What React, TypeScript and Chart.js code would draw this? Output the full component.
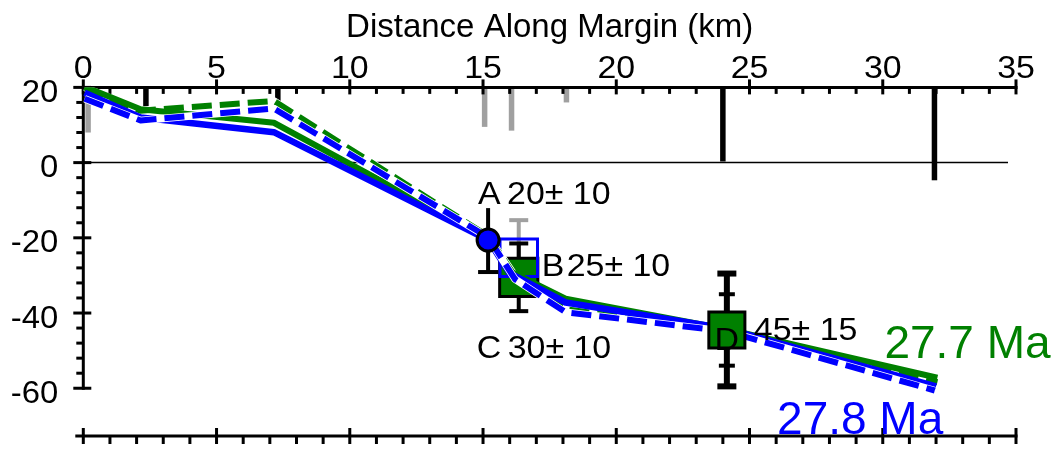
import React, { useEffect, useRef } from "react";
import { Chart, registerables } from "chart.js";

Chart.register(...registerables);

// ---- axis ticks / labels ----
const xTickValues = [0, 5, 10, 15, 20, 25, 30, 35];
const xTickLabels = ["0", "5", "10", "15", "20", "25", "30", "35"];
const yTickValues = [20, 0, -20, -40, -60];
const yTickLabels = ["20", "0", "-20", "-40", "-60"];
const axisTitle = "Distance Along Margin (km)";

// ---- model profiles (km along margin, elevation) ----
const greenSolidKm = [0.05, 2.15, 7.15, 15.2, 16.0, 18.1, 24.15, 32.05];
const greenSolidVal = [20.2, 14.2, 10.6, -20.3, -28.8, -36.2, -44.3, -57.2];
const greenDashedKm = [0.05, 2.15, 7.15, 15.2, 16.2, 18.1, 24.15, 32.05];
const greenDashedVal = [20.0, 13.8, 16.4, -19.6, -30.2, -39.0, -44.8, -58.4];
const blueSolidKm = [0.05, 2.15, 7.15, 15.2, 16.0, 18.1, 24.15, 32.0];
const blueSolidVal = [18.6, 12.0, 8.1, -20.6, -29.4, -37.2, -44.2, -59.5];
const blueDashedKm = [0.05, 2.15, 7.15, 15.2, 16.2, 18.1, 24.15, 31.95];
const blueDashedVal = [17.0, 11.2, 14.4, -19.9, -31.0, -39.8, -44.9, -60.6];
const seriesNames = ["27.7 Ma", "27.8 Ma"];

// ---- samples ----
const sampleNames = ["A", "B", "C", "D"];
const sampleKm = [15.19, 16.34, 16.34, 24.15];
const sampleVal = [-20.6, -25.3, -30.5, -44.5];
const sampleErr = [8.5, 10, 9, 15];
const sampleInnerErr = [0, 0, 0, 9.5];
const sampleAge = ["20± 10", "25± 10", "30± 10", "45± 15"];

// ---- vertical sticks hanging from top axis ----
const stickKm = [0.18, 2.35, 7.3, 15.06, 16.07, 18.13, 24.0, 31.94];
const stickEnd = [8, 15, 14, 9.5, 8.5, 16, 0.3, -4.7];
const stickGrey = [true, false, false, true, true, true, false, false];

const X_MIN = 0;
const X_MAX = 35;
const Y_MIN = -72.7;
const Y_MAX = 20;
const Y_AXIS_MIN = -60;
const ZERO_LINE_END = 34.7;

const FONT = '"Liberation Sans", Arial, Helvetica, sans-serif';
const GREEN = "#008000";
const BLUE = "#0000ff";
const GREY = "#a0a0a0";
const TEXT_STRETCH = 1.06;

function toXY(xs: number[], ys: number[]) {
  return xs.map((x, i) => ({ x, y: ys[i] }));
}

function seg(ctx: CanvasRenderingContext2D, x1: number, y1: number, x2: number, y2: number, w: number, color: string) {
  ctx.beginPath();
  ctx.lineWidth = w;
  ctx.strokeStyle = color;
  ctx.lineCap = "butt";
  ctx.moveTo(x1, y1);
  ctx.lineTo(x2, y2);
  ctx.stroke();
}

function text(ctx: CanvasRenderingContext2D, s: string, x: number, y: number, align: CanvasTextAlign, sx: number) {
  ctx.save();
  ctx.translate(x, y);
  ctx.scale(sx, 1);
  ctx.textAlign = align;
  ctx.textBaseline = "alphabetic";
  ctx.fillText(s, 0, 0);
  ctx.restore();
}

function errorBar(
  ctx: CanvasRenderingContext2D,
  x: number,
  yTop: number,
  yBot: number,
  stemW: number,
  capW: number,
  capT: number,
  color: string,
  topCap: boolean
) {
  seg(ctx, x, yTop, x, yBot, stemW, color);
  if (topCap) seg(ctx, x - capW / 2, yTop, x + capW / 2, yTop, capT, color);
  seg(ctx, x - capW / 2, yBot, x + capW / 2, yBot, capT, color);
}

const DS_BC = 0;
const DS_A = 7;
const DS_D = 8;

const customPlugin = {
  id: "customDraw",
  beforeDatasetsDraw(chart: any) {
    const ctx: CanvasRenderingContext2D = chart.ctx;
    const xs = chart.scales.x;
    const ys = chart.scales.y;
    ctx.save();
    const yTopPx = ys.getPixelForValue(Y_MAX);
    // sticks hanging from the top axis
    stickKm.forEach((k, i) => {
      const px = xs.getPixelForValue(k);
      seg(ctx, px, yTopPx, px, ys.getPixelForValue(stickEnd[i]), 5.5, stickGrey[i] ? GREY : "#000");
    });
    // zero line
    const y0 = ys.getPixelForValue(0);
    seg(ctx, xs.getPixelForValue(0), y0, xs.getPixelForValue(ZERO_LINE_END), y0, 1.5, "#000");

    const x0 = xs.getPixelForValue(X_MIN);
    const x35 = xs.getPixelForValue(X_MAX);
    const yBotPx = ys.getPixelForValue(Y_MIN);
    // top axis
    seg(ctx, x0 - 1.5, yTopPx, x35 + 1.5, yTopPx, 3, "#000");
    for (let k = X_MIN; k <= X_MAX; k++) {
      const px = xs.getPixelForValue(k);
      if (k % 5 === 0) seg(ctx, px, yTopPx - 8, px, yTopPx + 7, 3, "#000");
      else seg(ctx, px, yTopPx, px, yTopPx + 6.5, 3, "#000");
    }
    // bottom axis (top axis of the panel below)
    seg(ctx, x0 - 8, yBotPx, x35 + 1.5, yBotPx, 3, "#000");
    for (let k = X_MIN; k <= X_MAX; k++) {
      const px = xs.getPixelForValue(k);
      if (k % 5 === 0) seg(ctx, px, yBotPx - 8, px, yBotPx + 8, 3, "#000");
      else seg(ctx, px, yBotPx, px, yBotPx + 8, 3, "#000");
    }
    // left axis
    seg(ctx, x0, yTopPx - 1.5, x0, ys.getPixelForValue(Y_AXIS_MIN) + 1.5, 3, "#000");
    for (let v = Y_MAX; v >= Y_AXIS_MIN; v -= 4) {
      const py = ys.getPixelForValue(v);
      if (v % 20 === 0) seg(ctx, x0 - 10, py, x0 + 8, py, 3, "#000");
      else seg(ctx, x0 - 7, py, x0, py, 3, "#000");
    }
    // tick labels
    ctx.fillStyle = "#000";
    ctx.font = `32px ${FONT}`;
    xTickValues.forEach((v, i) => {
      text(ctx, xTickLabels[i], xs.getPixelForValue(v), yTopPx - 9, "center", TEXT_STRETCH);
    });
    ctx.font = `31px ${FONT}`;
    yTickValues.forEach((v, i) => {
      text(ctx, yTickLabels[i], x0 - 25, ys.getPixelForValue(v) + 14.5, "right", TEXT_STRETCH);
    });
    // title
    ctx.font = `33px ${FONT}`;
    text(ctx, axisTitle, (x0 + x35) / 2, 37, "center", 1);
    ctx.restore();
  },
  beforeDatasetDraw(chart: any, args: any) {
    const ctx: CanvasRenderingContext2D = chart.ctx;
    const xs = chart.scales.x;
    const ys = chart.scales.y;
    ctx.save();
    const bar = (i: number, color: string, stemW: number, capW: number, capT: number, topCap: boolean) => {
      const px = xs.getPixelForValue(sampleKm[i]);
      errorBar(
        ctx,
        px,
        ys.getPixelForValue(sampleVal[i] + sampleErr[i]),
        ys.getPixelForValue(sampleVal[i] - sampleErr[i]),
        stemW,
        capW,
        capT,
        color,
        topCap
      );
    };
    if (args.index === DS_BC) {
      bar(1, GREY, 4, 19, 4, true);
      bar(2, "#000", 4, 19, 4, true);
    } else if (args.index === DS_A) {
      bar(0, "#000", 4, 20, 4, false);
    } else if (args.index === DS_D) {
      bar(3, "#000", 6, 19, 6, true);
      const px = xs.getPixelForValue(sampleKm[3]);
      const yi1 = ys.getPixelForValue(sampleVal[3] + sampleInnerErr[3]);
      const yi2 = ys.getPixelForValue(sampleVal[3] - sampleInnerErr[3]);
      seg(ctx, px - 8, yi1, px + 8, yi1, 4, "#000");
      seg(ctx, px - 8, yi2, px + 8, yi2, 4, "#000");
    }
    ctx.restore();
  },
  afterDatasetsDraw(chart: any) {
    const ctx: CanvasRenderingContext2D = chart.ctx;
    const xs = chart.scales.x;
    const ys = chart.scales.y;
    ctx.save();
    ctx.fillStyle = "#000";
    ctx.font = `32px ${FONT}`;
    const px = (i: number) => xs.getPixelForValue(sampleKm[i]);
    const py = (i: number) => ys.getPixelForValue(sampleVal[i]);
    const S = TEXT_STRETCH;
    // A
    text(ctx, sampleNames[0], px(0) - 10, py(0) - 36, "left", S);
    text(ctx, sampleAge[0], px(0) + 19, py(0) - 36, "left", S);
    // B
    text(ctx, sampleNames[1], px(1) + 23, py(1) + 18, "left", S);
    text(ctx, sampleAge[1], px(1) + 48, py(1) + 18, "left", S);
    // C
    text(ctx, sampleNames[2], px(2) - 42, py(2) + 81, "left", S);
    text(ctx, sampleAge[2], px(2) - 11, py(2) + 81, "left", S);
    // D
    text(ctx, sampleNames[3], px(3), py(3) + 20, "center", S);
    text(ctx, sampleAge[3], px(3) + 27, py(3) + 10, "left", S);
    // series labels
    ctx.font = `46px ${FONT}`;
    const gEnd = greenSolidKm.length - 1;
    ctx.fillStyle = GREEN;
    text(ctx, seriesNames[0], xs.getPixelForValue(greenSolidKm[gEnd]) - 53, ys.getPixelForValue(greenSolidVal[gEnd]) - 20, "left", 1);
    const bEnd = blueSolidKm.length - 1;
    ctx.fillStyle = BLUE;
    text(ctx, seriesNames[1], xs.getPixelForValue(blueSolidKm[bEnd]) - 159, ys.getPixelForValue(blueSolidVal[bEnd]) + 48, "left", 1);
    ctx.restore();
  },
};

function lineDs(data: any[], color: string, width: number, dash: number[] = []) {
  return {
    type: "scatter" as const,
    data,
    showLine: true,
    borderColor: color,
    backgroundColor: color,
    borderWidth: width,
    borderDash: dash,
    borderCapStyle: "butt",
    borderJoinStyle: "round",
    pointRadius: 0,
    tension: 0,
  };
}

export default function App() {
  const canvasRef = useRef<HTMLCanvasElement | null>(null);

  useEffect(() => {
    const canvas = canvasRef.current;
    if (!canvas) return;

    const datasets: any[] = [
      // 0: C (green) and B (open blue) squares
      {
        type: "scatter",
        data: [
          { x: sampleKm[2], y: sampleVal[2] },
          { x: sampleKm[1], y: sampleVal[1] },
        ],
        pointStyle: "rect",
        pointRadius: [27, 26.5],
        pointBackgroundColor: [GREEN, "rgba(0,0,0,0)"],
        pointBorderColor: ["#000", BLUE],
        pointBorderWidth: 3,
        showLine: false,
      },
      lineDs(toXY(greenDashedKm, greenDashedVal), "#ffffff", 7.5),
      lineDs(toXY(greenDashedKm, greenDashedVal), GREEN, 6, [20, 8]),
      lineDs(toXY(greenSolidKm, greenSolidVal), GREEN, 6),
      lineDs(toXY(blueSolidKm, blueSolidVal), BLUE, 6.5),
      lineDs(toXY(blueDashedKm, blueDashedVal), "#ffffff", 7.5),
      lineDs(toXY(blueDashedKm, blueDashedVal), BLUE, 6, [20, 8]),
      // 7: A
      {
        type: "scatter",
        data: [{ x: sampleKm[0], y: sampleVal[0] }],
        pointStyle: "circle",
        pointRadius: 11,
        pointBackgroundColor: BLUE,
        pointBorderColor: "#000",
        pointBorderWidth: 3,
        showLine: false,
      },
      // 8: D
      {
        type: "scatter",
        data: [{ x: sampleKm[3], y: sampleVal[3] }],
        pointStyle: "rect",
        pointRadius: 25.5,
        pointBackgroundColor: GREEN,
        pointBorderColor: "#000",
        pointBorderWidth: 3,
        showLine: false,
      },
    ];
    datasets.forEach((d, i) => (d.order = -i));

    const chart = new Chart(canvas, {
      type: "scatter",
      data: { datasets },
      options: {
        responsive: true,
        maintainAspectRatio: false,
        devicePixelRatio: 1,
        animation: false,
        events: [],
        layout: { padding: { left: 83.3, right: 38, top: 87.4, bottom: 8 } },
        plugins: {
          legend: { display: false },
          tooltip: { enabled: false },
          title: { display: false },
        },
        scales: {
          x: { type: "linear", min: X_MIN, max: X_MAX, display: false },
          y: { type: "linear", min: Y_MIN, max: Y_MAX, display: false },
        },
      } as any,
      plugins: [customPlugin as any],
    });
    return () => chart.destroy();
  }, []);

  return (
    <div style={{ position: "fixed", left: 0, top: 0, width: 1054, height: 466, background: "#ffffff" }}>
      <canvas ref={canvasRef} style={{ display: "block" }} />
    </div>
  );
}
